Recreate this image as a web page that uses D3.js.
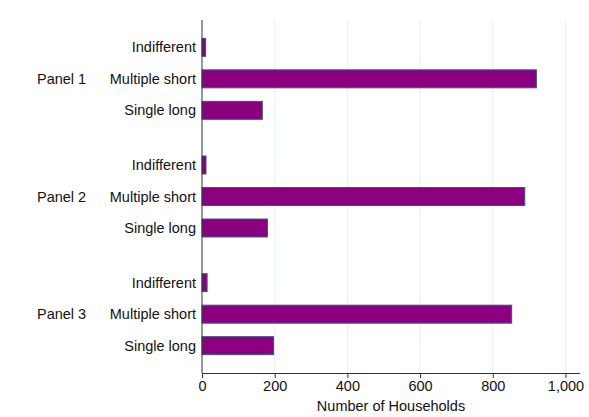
<!DOCTYPE html>
<html>
<head>
<meta charset="utf-8">
<script src="https://cdn.jsdelivr.net/npm/d3@7"></script>
<style>
  html, body { margin: 0; padding: 0; background: #fff; }
  svg { display: block; font-family: "Liberation Sans", Arial, Helvetica, sans-serif; }
</style>
</head>
<body>
<svg id="chart" width="589" height="417"></svg>
<script>
// Household preference counts by panel
const panels = ["Panel 1", "Panel 2", "Panel 3"];
const options = ["Indifferent", "Multiple short", "Single long"];
const panel1 = [10, 920, 166];
const panel2 = [11, 888, 180];
const panel3 = [14, 852, 197];
const xTicks = [0, 200, 400, 600, 800, 1000];
const xTitle = "Number of Households";

const seriesByPanel = [panel1, panel2, panel3];
const rows = [];
panels.forEach((p, i) => options.forEach((o, j) => rows.push({ panel: p, option: o, value: seriesByPanel[i][j] })));

const svg = d3.select("#chart");
const plot = { left: 202, right: 580, top: 20, bottom: 373 };
const fontSize = 14.5;

const x = d3.scaleLinear().domain([0, 1040]).range([plot.left, plot.right]);
const yGroup = d3.scaleBand().domain(panels).range([plot.top, plot.bottom]).paddingInner(0).paddingOuter(0);
const yRow = d3.scaleBand().domain(options).range([0, yGroup.bandwidth()]).paddingInner(0.43).paddingOuter(0.583);

// vertical gridlines
svg.append("g")
  .selectAll("line")
  .data(xTicks.filter(d => d > 0))
  .join("line")
  .attr("x1", d => x(d)).attr("x2", d => x(d))
  .attr("y1", plot.top).attr("y2", plot.bottom)
  .attr("stroke", "#e8f0f2")
  .attr("stroke-width", 1);

// bars
svg.append("g")
  .selectAll("rect")
  .data(rows)
  .join("rect")
  .attr("x", x(0))
  .attr("y", d => yGroup(d.panel) + yRow(d.option))
  .attr("width", d => x(d.value) - x(0))
  .attr("height", yRow.bandwidth())
  .attr("fill", "#8b007f")
  .attr("stroke", "#3d4f8c")
  .attr("stroke-width", 1);

// category labels
svg.append("g")
  .selectAll("text")
  .data(rows)
  .join("text")
  .attr("x", plot.left - 6)
  .attr("y", d => yGroup(d.panel) + yRow(d.option) + yRow.bandwidth() / 2)
  .attr("dy", "0.35em")
  .attr("text-anchor", "end")
  .attr("font-size", fontSize)
  .attr("fill", "#111")
  .text(d => d.option);

// panel labels
svg.append("g")
  .selectAll("text")
  .data(panels)
  .join("text")
  .attr("x", 37)
  .attr("y", d => yGroup(d) + yRow("Multiple short") + yRow.bandwidth() / 2)
  .attr("dy", "0.35em")
  .attr("font-size", fontSize)
  .attr("fill", "#111")
  .text(d => d);

// y axis line
svg.append("line")
  .attr("x1", plot.left).attr("x2", plot.left)
  .attr("y1", plot.top).attr("y2", plot.bottom)
  .attr("stroke", "#333").attr("stroke-width", 1);

// x axis
const xAxis = svg.append("g")
  .attr("transform", `translate(0,${plot.bottom})`)
  .call(d3.axisBottom(x).tickValues(xTicks).tickFormat(d3.format(",")).tickSizeOuter(0).tickSize(5).tickPadding(3));
xAxis.select(".domain").attr("stroke", "#333").attr("d", `M${plot.left},0.5H${plot.right}`);
xAxis.selectAll(".tick line").attr("stroke", "#333");
xAxis.selectAll(".tick text")
  .attr("font-size", fontSize)
  .attr("font-family", "Liberation Sans, Arial, Helvetica, sans-serif")
  .attr("fill", "#111");

svg.append("text")
  .attr("x", 391)
  .attr("y", 411)
  .attr("text-anchor", "middle")
  .attr("font-size", fontSize)
  .attr("fill", "#111")
  .text(xTitle);
</script>
</body>
</html>
